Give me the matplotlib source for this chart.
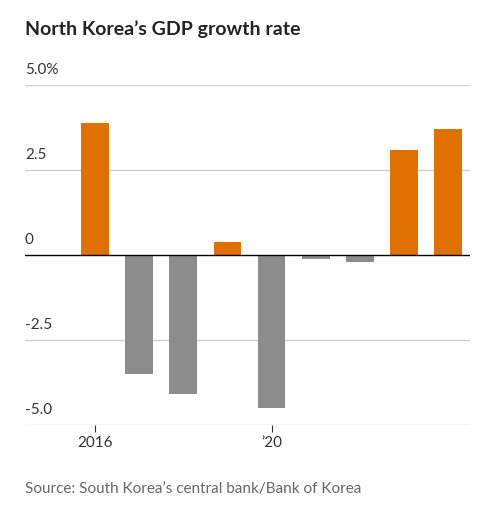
import matplotlib.pyplot as plt

years = [2016, 2017, 2018, 2019, 2020, 2021, 2022, 2023, 2024]
growth = [3.9, -3.5, -4.1, 0.4, -4.5, -0.1, -0.2, 3.1, 3.7]
ytick_vals = [5.0, 2.5, 0, -2.5, -5.0]
ytick_labels = ["5.0%", "2.5", "0", "-2.5", "-5.0"]

plt.rcParams['font.family'] = ['Lato', 'DejaVu Sans']

fig = plt.figure(figsize=(4.98, 5.26), dpi=100)
ax = fig.add_axes([0.05, 0.192, 0.894, 0.646])

colors = ['#e07000' if v >= 0 else '#8c8c8c' for v in growth]
ax.bar(years, growth, width=0.63, color=colors, zorder=3)

for v in ytick_vals:
    ax.axhline(v, color='black' if v == 0 else '#d0d0d0', lw=1.0, zorder=4 if v == 0 else 1)
for v, lab in zip(ytick_vals, ytick_labels):
    ax.text(2014.41, v + 0.25, lab, fontsize=11, color='#333333', va='bottom', ha='left')

ax.set_xlim(2014.41, 2024.5)
ax.set_ylim(-5.0, 5.0)
ax.set_yticks([])
for s in ax.spines.values():
    s.set_visible(False)
ax.set_xticks([2016, 2020])
ax.set_xticklabels(["2016", "\u201920"], fontsize=11, color='#333333')
ax.tick_params(axis='x', length=5, color='#333333', pad=3)

fig.text(0.05, 0.945, "North Korea\u2019s GDP growth rate", fontsize=14, fontweight='bold',
         color='#222222', va='center')
fig.text(0.05, 0.07, "Source: South Korea\u2019s central bank/Bank of Korea", fontsize=11,
         color='#666666', va='center')

fig.savefig("out.png", dpi=100)
